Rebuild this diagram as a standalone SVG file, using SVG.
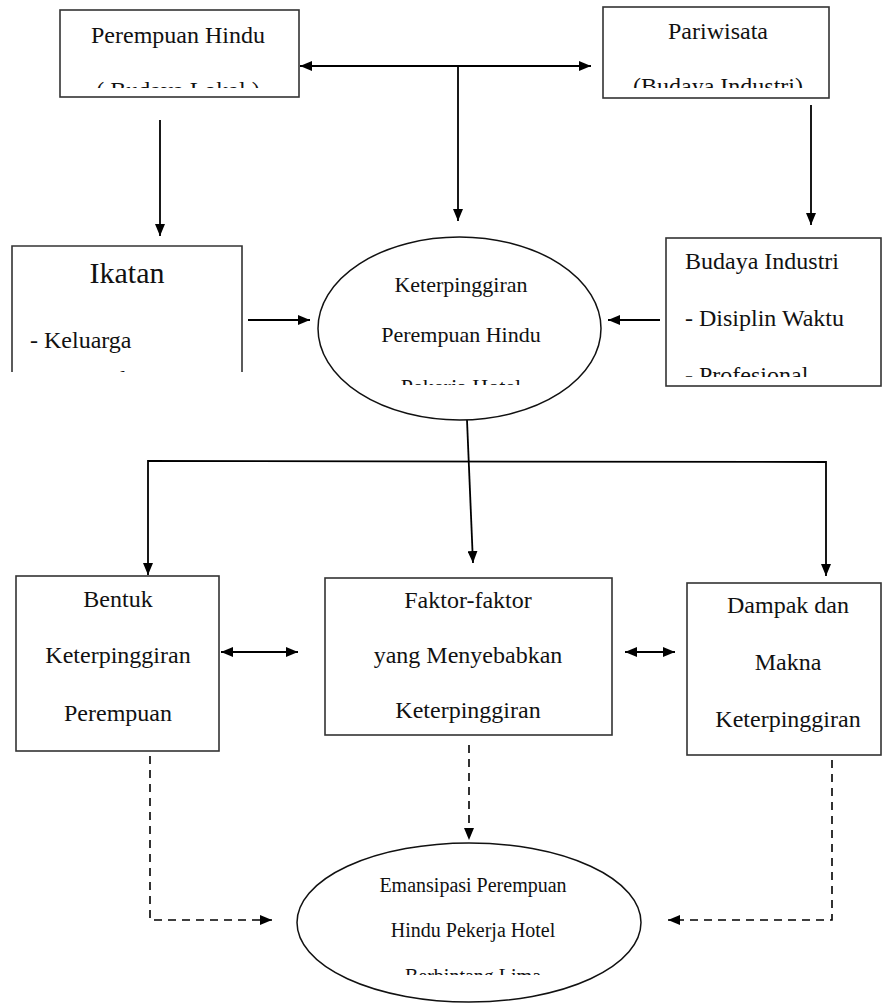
<svg xmlns="http://www.w3.org/2000/svg" width="882" height="1003" viewBox="0 0 882 1003">
<style>
.box{fill:#fff;stroke:#333;stroke-width:1.6}
.ell{fill:#fff;stroke:#111;stroke-width:1.5}
text{font-family:'Liberation Serif','Times New Roman',Times,'DejaVu Serif',serif;fill:#111}
.t{text-anchor:middle}
.tl{text-anchor:start}
.c{fill:none;stroke:#000;stroke-width:1.8}
.d{fill:none;stroke:#000;stroke-width:1.6;stroke-dasharray:8 6}
</style>
<defs>
<marker id="ah" viewBox="0 0 12 10" refX="12" refY="5" markerWidth="12" markerHeight="10" markerUnits="userSpaceOnUse" orient="auto-start-reverse">
<path d="M0,0 L12,5 L0,10 z" fill="#000"/>
</marker>
<clipPath id="cp1"><rect x="60" y="10" width="240" height="78"/></clipPath>
<clipPath id="cp2"><rect x="603" y="7" width="227" height="81"/></clipPath>
<clipPath id="cp3"><rect x="12" y="246" width="231" height="126"/></clipPath>
<clipPath id="cp4"><rect x="666" y="238" width="216" height="139"/></clipPath>
<clipPath id="cp5"><rect x="300" y="230" width="320" height="155"/></clipPath>
<clipPath id="cp6"><rect x="290" y="840" width="360" height="135"/></clipPath>
</defs>

<g id="connectors">
<line class="c" x1="300" y1="66" x2="591" y2="66" marker-start="url(#ah)" marker-end="url(#ah)"/>
<line class="c" x1="458" y1="66" x2="458" y2="221" marker-end="url(#ah)"/>
<line class="c" x1="160" y1="120" x2="160" y2="236" marker-end="url(#ah)"/>
<line class="c" x1="811" y1="105" x2="811" y2="225" marker-end="url(#ah)"/>
<line class="c" x1="248" y1="320" x2="310" y2="320" marker-end="url(#ah)"/>
<line class="c" x1="660" y1="320" x2="608" y2="320" marker-end="url(#ah)"/>
<line class="c" x1="467" y1="420" x2="473" y2="563" marker-end="url(#ah)"/>
<polyline class="c" points="148,575 148,461 826,462 826,576" marker-start="url(#ah)" marker-end="url(#ah)"/>
<line class="c" x1="221" y1="652" x2="298" y2="652" marker-start="url(#ah)" marker-end="url(#ah)"/>
<line class="c" x1="625" y1="652" x2="675" y2="652" marker-start="url(#ah)" marker-end="url(#ah)"/>
<polyline class="d" points="150,742 150,920 272,920" marker-end="url(#ah)"/>
<line class="d" x1="469" y1="745" x2="469" y2="840" marker-end="url(#ah)"/>
<polyline class="d" points="832,760 832,920 668,920" marker-end="url(#ah)"/>
</g>

<g id="node-perempuan-hindu">
<rect class="box" x="60" y="10" width="239" height="87"/>
<g clip-path="url(#cp1)">
<text class="t" x="178" y="43" font-size="24">Perempuan Hindu</text>
<text class="t" x="178" y="98" font-size="24">( Budaya Lokal )</text>
</g>
</g>

<g id="node-pariwisata">
<rect class="box" x="603" y="7" width="226" height="91"/>
<g clip-path="url(#cp2)">
<text class="t" x="718" y="39" font-size="24">Pariwisata</text>
<text class="t" x="718" y="94" font-size="24">(Budaya Industri)</text>
</g>
</g>

<g id="node-ikatan">
<path class="box" d="M12,372 L12,246 L242,246 L242,372" />
<g clip-path="url(#cp3)">
<text class="t" x="127" y="283" font-size="30">Ikatan</text>
<text class="tl" x="30" y="348" font-size="24">- Keluarga</text>
<text class="tl" x="30" y="387" font-size="24">- Desa Adat</text>
</g>
</g>

<g id="node-budaya-industri">
<rect class="box" x="666" y="238" width="215" height="148"/>
<g clip-path="url(#cp4)">
<text class="tl" x="685" y="269" font-size="24">Budaya Industri</text>
<text class="tl" x="685" y="326" font-size="24">- Disiplin Waktu</text>
<text class="tl" x="685" y="383" font-size="24">- Profesional</text>
</g>
</g>

<g id="node-keterpinggiran">
<ellipse class="ell" cx="459.5" cy="328.5" rx="141.5" ry="91.5"/>
<g clip-path="url(#cp5)">
<text class="t" x="461" y="292" font-size="22">Keterpinggiran</text>
<text class="t" x="461" y="342" font-size="22">Perempuan Hindu</text>
<text class="t" x="461" y="394" font-size="22">Pekerja Hotel</text>
</g>
</g>

<g id="node-bentuk">
<rect class="box" x="16" y="576" width="203" height="175"/>
<text class="t" x="118" y="607" font-size="24">Bentuk</text>
<text class="t" x="118" y="663" font-size="24">Keterpinggiran</text>
<text class="t" x="118" y="721" font-size="24">Perempuan</text>
</g>

<g id="node-faktor">
<rect class="box" x="325" y="578" width="287" height="157"/>
<text class="t" x="468" y="608" font-size="24">Faktor-faktor</text>
<text class="t" x="468" y="663" font-size="24">yang Menyebabkan</text>
<text class="t" x="468" y="718" font-size="24">Keterpinggiran</text>
</g>

<g id="node-dampak">
<rect class="box" x="687" y="583" width="194" height="172"/>
<text class="t" x="788" y="613" font-size="24">Dampak dan</text>
<text class="t" x="788" y="670" font-size="24">Makna</text>
<text class="t" x="788" y="727" font-size="24">Keterpinggiran</text>
</g>

<g id="node-emansipasi">
<ellipse class="ell" cx="469" cy="922.5" rx="172" ry="79.5"/>
<g clip-path="url(#cp6)">
<text class="t" x="473" y="892" font-size="20">Emansipasi Perempuan</text>
<text class="t" x="473" y="937" font-size="20">Hindu Pekerja Hotel</text>
<text class="t" x="473" y="983" font-size="20">Berbintang Lima</text>
</g>
</g>
</svg>
